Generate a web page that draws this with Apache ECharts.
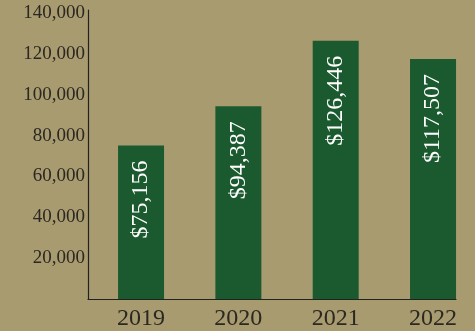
<!DOCTYPE html>
<html>
<head>
<meta charset="utf-8">
<script src="https://cdn.jsdelivr.net/npm/echarts@6/dist/echarts.min.js"></script>
<style>
    html, body { margin: 0; padding: 0; background: #a89b70; }
    #chart { width: 475px; height: 331px; }
</style>
</head>
<body>
<div id="chart"></div>
<script>
var years = ["2019", "2020", "2021", "2022"];
var amounts = [75156, 94387, 126446, 117507];
var yTicks = [20000, 40000, 60000, 80000, 100000, 120000, 140000];
var xTicks = [0, 1, 2, 3];

function fmt(v) {
    return String(v).replace(/\B(?=(\d{3})+(?!\d))/g, ",");
}

var chart = echarts.init(document.getElementById('chart'));

var barData = [];
for (var i = 0; i < amounts.length; i++) {
    barData.push([i, amounts[i]]);
}

chart.setOption({
    backgroundColor: "#a89b70",
    animation: false,
    textStyle: { fontFamily: "Liberation Serif" },
    grid: { left: 88, right: 19, top: 10, bottom: 31 },
    xAxis: {
        type: "value",
        min: -0.545,
        max: 3.236,
        splitLine: { show: false },
        axisTick: { show: false },
        axisLine: { show: true, onZero: false, lineStyle: { color: "#222", width: 1.2 } },
        axisLabel: {
            customValues: xTicks,
            formatter: function(v) { return years[Math.round(v)]; },
            color: "#2b2822",
            fontSize: 24,
            fontFamily: "Liberation Serif",
            margin: 8
        }
    },
    yAxis: {
        type: "value",
        min: 0,
        max: 141500,
        splitLine: { show: false },
        axisTick: { show: false },
        axisLine: { show: true, onZero: false, lineStyle: { color: "#222", width: 1.2 } },
        axisLabel: {
            customValues: yTicks,
            formatter: function(v) { return fmt(v); },
            color: "#2b2822",
            fontSize: 19,
            fontFamily: "Liberation Serif",
            margin: 3
        }
    },
    series: [{
        type: "bar",
        data: barData,
        barWidth: 46,
        itemStyle: { color: "#1b5a2f" },
        label: {
            show: true,
            position: "insideTop",
            distance: 15,
            rotate: 90,
            align: "right",
            verticalAlign: "middle",
            color: "#fff",
            fontSize: 24,
            fontFamily: "Liberation Serif",
            formatter: function(p) { return "$" + fmt(p.value[1]); }
        }
    }]
});
</script>
</body>
</html>
